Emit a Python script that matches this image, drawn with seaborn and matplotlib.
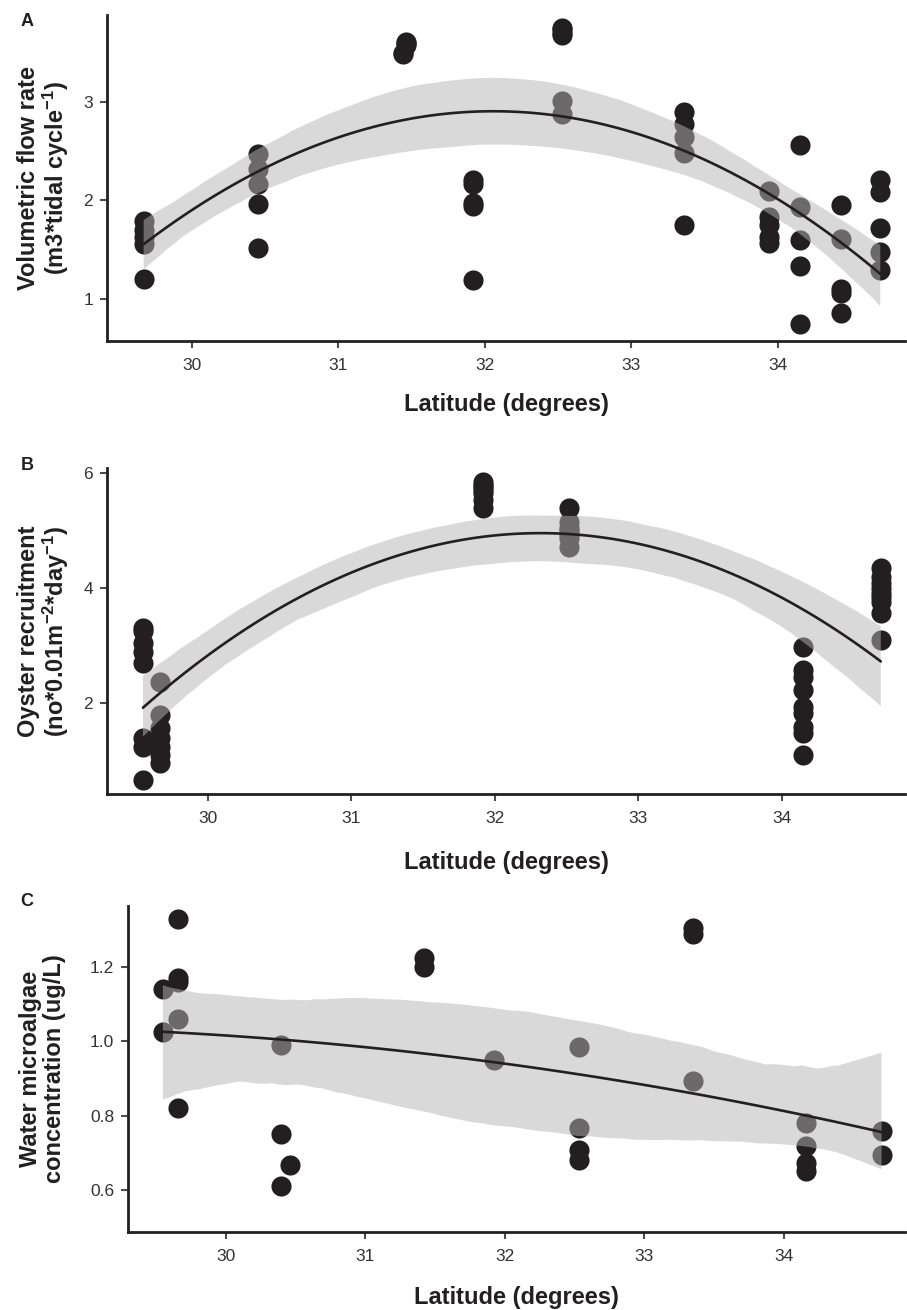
import numpy as np
import pandas as pd
import matplotlib
matplotlib.use('Agg')
import matplotlib.pyplot as plt
import seaborn as sns

sns.set_style('ticks')
plt.rcParams['font.family'] = ['Liberation Sans', 'DejaVu Sans']
plt.rcParams['mathtext.fontset'] = 'custom'
plt.rcParams['mathtext.bf'] = 'Liberation Sans:bold'
plt.rcParams['mathtext.rm'] = 'Liberation Sans:bold'
plt.rcParams['mathtext.default'] = 'bf'

# ---- data (overlapping replicates included) ----
# A: volumetric flow rate
lat_a = [29.67] * 5 + [30.45] * 5 + [31.46] * 3 + [31.44] * 2 + [31.92] * 5 + [32.53] * 6 + \
        [33.36] * 5 + [33.94] * 5 + [34.15] * 5 + [34.43] * 5 + [34.70] * 5
flow_a = [1.79, 1.70, 1.63, 1.55, 1.20,
          2.47, 2.32, 2.16, 1.96, 1.51,
          3.61, 3.60, 3.58, 3.49, 3.48,
          2.21, 2.16, 1.97, 1.94, 1.19,
          3.75, 3.74, 3.70, 3.68, 3.01, 2.88,
          2.90, 2.77, 2.64, 2.48, 1.75,
          2.09, 1.83, 1.75, 1.63, 1.57,
          2.56, 1.93, 1.60, 1.33, 0.74,
          1.95, 1.61, 1.10, 1.06, 0.85,
          2.21, 2.08, 1.72, 1.47, 1.29]

# B: oyster recruitment
lat_b = [29.55] * 8 + [29.67] * 7 + [31.92] * 7 + [32.52] * 7 + [34.15] * 9 + [34.69] * 9
recr_b = [3.30, 3.26, 3.04, 2.89, 2.70, 1.39, 1.23, 0.66,
          2.37, 1.79, 1.57, 1.39, 1.23, 1.10, 0.96,
          5.84, 5.80, 5.76, 5.70, 5.65, 5.53, 5.39,
          5.39, 5.15, 5.05, 5.01, 4.95, 4.87, 4.71,
          2.97, 2.57, 2.45, 2.23, 1.93, 1.83, 1.58, 1.48, 1.10,
          4.35, 4.20, 4.09, 4.00, 3.91, 3.85, 3.76, 3.57, 3.10]

# C: water microalgae
lat_c = [29.55, 29.55] + [29.66] * 5 + [30.40] * 3 + [30.46] + [31.42, 31.42] + [31.92] + \
        [32.53] * 4 + [33.35] * 3 + [34.16] * 4 + [34.70] * 2
alg_c = [1.142, 1.026,
         1.33, 1.17, 1.16, 1.06, 0.82,
         0.99, 0.75, 0.61,
         0.667,
         1.225, 1.20,
         0.95,
         0.984, 0.767, 0.707, 0.68,
         1.306, 1.29, 0.893,
         0.78, 0.718, 0.672, 0.65,
         0.76, 0.694]

df_a = pd.DataFrame({'lat': lat_a, 'val': flow_a})
df_b = pd.DataFrame({'lat': lat_b, 'val': recr_b})
df_c = pd.DataFrame({'lat': lat_c, 'val': alg_c})

ink = '#231f20'
fig = plt.figure(figsize=(9.07, 13.10), dpi=100)

panels = [
    dict(df=df_a, rect=[0.118, 0.7397, 0.880, 0.2488], xlim=(29.42, 34.87), ylim=(0.57, 3.88),
         yticks=[1, 2, 3], yfmt='{:.0f}', ylab='Volumetric flow rate\n(m3*tidal cycle$^{-1}$)',
         ylab_x=-0.079, xlab_y=-0.196, letter='A', letter_y=21),
    dict(df=df_b, rect=[0.118, 0.3939, 0.880, 0.2488], xlim=(29.30, 34.86), ylim=(0.42, 6.09),
         yticks=[2, 4, 6], yfmt='{:.0f}', ylab='Oyster recruitment\n(no*0.01m$^{-2}$*day$^{-1}$)',
         ylab_x=-0.079, xlab_y=-0.209, letter='B', letter_y=466),
    dict(df=df_c, rect=[0.1411, 0.0595, 0.857, 0.2489], xlim=(29.30, 34.87), ylim=(0.487, 1.364),
         yticks=[0.6, 0.8, 1.0, 1.2], yfmt='{:.1f}', ylab='Water microalgae\nconcentration (ug/L)',
         ylab_x=-0.110, xlab_y=-0.20, letter='C', letter_y=901),
]

for p in panels:
    ax = fig.add_axes(p['rect'])
    sns.regplot(data=p['df'], x='lat', y='val', order=2, ci=95, seed=3, ax=ax,
                scatter_kws=dict(s=210, color=ink, alpha=1, linewidths=0),
                line_kws=dict(color=ink, lw=1.9))
    # grey ribbon over the points, like the original
    for coll in ax.collections[1:]:
        coll.set_facecolor('#b4b4b4')
        coll.set_alpha(0.5)
        coll.set_edgecolor('none')
    ax.set_xlim(*p['xlim'])
    ax.set_ylim(*p['ylim'])
    ax.set_xticks([30, 31, 32, 33, 34])
    ax.set_xticklabels(['30', '31', '32', '33', '34'])
    ax.set_yticks(p['yticks'])
    ax.set_yticklabels([p['yfmt'].format(v) for v in p['yticks']])
    sns.despine(ax=ax)
    for s in ['left', 'bottom']:
        ax.spines[s].set_linewidth(2)
        ax.spines[s].set_color(ink)
    ax.tick_params(axis='both', length=5, width=1.5, color='#4d4d4d',
                   labelcolor='#333333', labelsize=12.5)
    ax.tick_params(axis='x', pad=7)
    ax.tick_params(axis='y', pad=5)
    ax.set_xlabel('Latitude (degrees)', fontsize=17, fontweight='bold', color=ink)
    ax.set_ylabel(p['ylab'], fontsize=17, fontweight='bold', color=ink, linespacing=1.05)
    ax.xaxis.set_label_coords(0.5, p['xlab_y'])
    ax.xaxis.label.set_va('center')
    ax.yaxis.set_label_coords(p['ylab_x'], 0.5)
    ax.yaxis.label.set_va('center')
    fig.text(27 / 907, 1 - p['letter_y'] / 1310, p['letter'], fontsize=13,
             fontweight='bold', ha='center', va='center', color=ink)

fig.savefig('out.png', dpi=100)
